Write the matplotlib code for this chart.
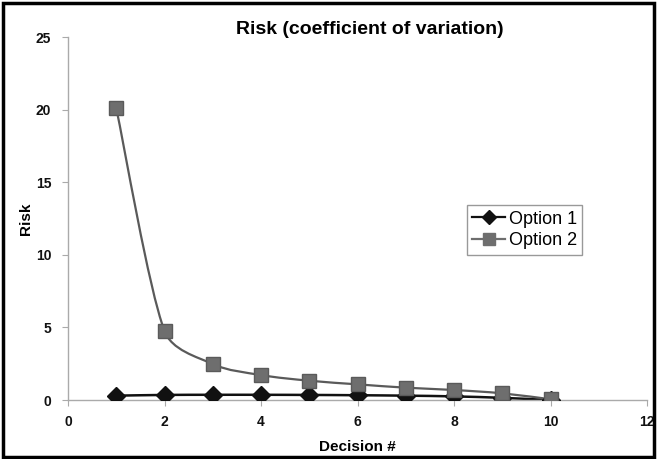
import matplotlib
matplotlib.use('Agg')
import matplotlib.pyplot as plt
from matplotlib.path import Path
from matplotlib.patches import PathPatch, Rectangle
import numpy as np

plt.rcParams['font.family'] = ['Liberation Sans', 'DejaVu Sans']

decision = [1, 2, 3, 4, 5, 6, 7, 8, 9, 10]
option1 = [0.30, 0.35, 0.36, 0.36, 0.35, 0.33, 0.30, 0.25, 0.15, 0.0]
option2 = [20.1, 4.75, 2.48, 1.72, 1.33, 1.08, 0.85, 0.69, 0.46, 0.05]

# rough pixels per data unit, used only to keep the smoothing from overshooting
SX, SY = 48.2, 14.52


def smooth_path(xs, ys):
    # Excel-style smoothed line: cubic Bezier segments through the points
    pts = np.column_stack([xs, ys]).astype(float)
    scale = np.array([SX, SY])
    verts = [pts[0]]
    codes = [Path.MOVETO]
    n = len(pts)
    for i in range(n - 1):
        p0 = pts[i - 1] if i > 0 else pts[i]
        p1 = pts[i]
        p2 = pts[i + 1]
        p3 = pts[i + 2] if i + 2 < n else pts[i + 1]
        chord = np.linalg.norm((p2 - p1) * scale)
        d1 = (p2 - p0) / 6.0
        d2 = (p3 - p1) / 6.0
        for d in (d1, d2):
            ln = np.linalg.norm(d * scale)
            if ln > 0.35 * chord:
                d *= 0.35 * chord / ln
        verts += [p1 + d1, p2 - d2, p2]
        codes += [Path.CURVE4] * 3
    return Path(verts, codes)


fig = plt.figure(figsize=(6.57, 4.59), dpi=100)
ax = fig.add_axes([0.1035, 0.1285, 0.8815, 0.7905])

ax.add_patch(PathPatch(smooth_path(decision, option1), fill=False,
                       edgecolor='#111111', lw=1.8, zorder=2))
ax.add_patch(PathPatch(smooth_path(decision, option2), fill=False,
                       edgecolor='#5a5a5a', lw=1.6, zorder=2))

ax.plot(decision, option1, ls='none', marker='D', ms=9.5, color='#111111',
        zorder=3)
ax.plot(decision, option2, ls='none', marker='s', ms=10, color='#6e6e6e',
        markeredgecolor='#5a5a5a', zorder=3)

# legend handles
h1, = ax.plot([], [], '-D', color='#111111', ms=7, lw=1.6, label='Option 1')
h2, = ax.plot([], [], '-s', color='#6e6e6e', ms=8, lw=1.6, label='Option 2')
leg = ax.legend(handles=[h1, h2], loc='upper left',
                bbox_to_anchor=(0.689, 0.537), borderaxespad=0,
                fancybox=False, framealpha=1, edgecolor='#999999',
                fontsize=13, handlelength=1.8, handletextpad=0.2,
                borderpad=0.3, labelspacing=0.25)
leg.get_frame().set_linewidth(1.0)

ax.set_xlim(0, 12)
ax.set_ylim(0, 25)
ax.set_xticks(range(0, 13, 2))
ax.set_yticks(range(0, 26, 5))
for s in ['top', 'right']:
    ax.spines[s].set_visible(False)
for s in ['left', 'bottom']:
    ax.spines[s].set_color('#aaaaaa')
    ax.spines[s].set_linewidth(1.0)
ax.tick_params(axis='both', colors='#aaaaaa', length=4, labelcolor='#111111',
               labelsize=10)
ax.tick_params(axis='y', pad=8)
ax.tick_params(axis='x', pad=7)
for lbl in ax.get_xticklabels() + ax.get_yticklabels():
    lbl.set_fontweight('bold')

ax.set_xlabel('Decision #', fontsize=11, fontweight='bold', labelpad=8)
ax.set_ylabel('Risk', fontsize=11, fontweight='bold', labelpad=2)
fig.text(0.563, 0.925, 'Risk (coefficient of variation)', ha='center',
         fontsize=14, fontweight='bold')

fig.patches.append(Rectangle((0.004, 0.004), 0.992, 0.99, transform=fig.transFigure,
                             fill=False, edgecolor='black', lw=2.5))

fig.savefig('out.png', dpi=100)
